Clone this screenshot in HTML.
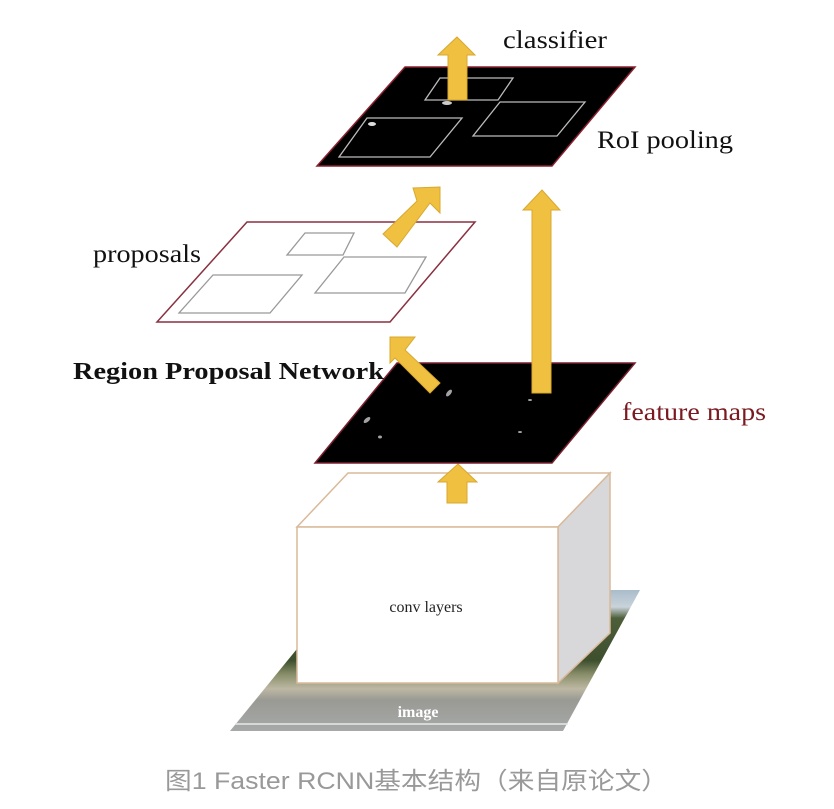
<!DOCTYPE html>
<html><head><meta charset="utf-8"><style>
html,body{margin:0;padding:0;background:#fff;}
svg{display:block;}
</style></head><body>
<svg width="834" height="809" viewBox="0 0 834 809" xmlns="http://www.w3.org/2000/svg">
<defs>
<linearGradient id="img" x1="0" y1="0" x2="0" y2="1">
<stop offset="0" stop-color="#a9bccb"/>
<stop offset="0.12" stop-color="#c9d3da"/>
<stop offset="0.2" stop-color="#4d5e3a"/>
<stop offset="0.5" stop-color="#3e4f2e"/>
<stop offset="0.6" stop-color="#8a8f6a"/>
<stop offset="0.7" stop-color="#bdb8a4"/>
<stop offset="0.78" stop-color="#9a9a94"/>
<stop offset="1" stop-color="#a6a9a8"/>
</linearGradient>
</defs>
<polygon points="345,590 640,590 563,731 230,731" fill="url(#img)"/>
<line x1="235" y1="724" x2="568" y2="724" stroke="#e8e8e8" stroke-width="1.5"/>
<text x="418" y="717" font-family="Liberation Serif,serif" font-weight="bold" font-size="16" fill="#fff" text-anchor="middle">image</text>
<polygon points="297,527 348,473 610,473 558,527" fill="#fff" stroke="#d9b99a" stroke-width="1.5"/>
<polygon points="558,527 610,473 610,633 558,683" fill="#d8d8da" stroke="#d9b99a" stroke-width="1.5"/>
<rect x="297" y="527" width="261" height="156" fill="#fff" stroke="#d9b99a" stroke-width="1.5"/>
<text x="426" y="612" font-family="Liberation Serif,serif" font-size="16" fill="#222" text-anchor="middle">conv layers</text>
<polygon points="458,464 477,482 467,482 467,503 447,503 447,482 438,482" fill="#f0c040" stroke="#d8a830" stroke-width="1"/>
<polygon points="397,363 635,363 552,463 315,463" fill="#000" stroke="#7a2030" stroke-width="1.5"/>
<g fill="#ccc" opacity="0.8">
<ellipse cx="449" cy="393" rx="4" ry="2" transform="rotate(-50 449 393)"/>
<ellipse cx="367" cy="420" rx="4" ry="2" transform="rotate(-40 367 420)"/>
<ellipse cx="380" cy="437" rx="2" ry="1.5"/>
<ellipse cx="520" cy="432" rx="2" ry="1"/>
<ellipse cx="530" cy="400" rx="2" ry="1"/>
</g>
<polygon points="390,337 415,337 405,350 440,383 430,393 395,358 390,363" fill="#f0c040" stroke="#d8a830" stroke-width="1"/>
<polygon points="542,190 560,210 551,210 551,393 532,393 532,210 523,210" fill="#f0c040" stroke="#d8a830" stroke-width="1"/>
<polygon points="247,222 475,222 390,322 157,322" fill="#fff" stroke="#8a3040" stroke-width="1.5"/>
<g fill="none" stroke="#999" stroke-width="1.3">
<polygon points="305,233 354,233 343,255 287,255"/>
<polygon points="344,257 426,257 405,293 315,293"/>
<polygon points="213,275 302,275 270,313 179,313"/>
</g>
<polygon points="440,187 440,213 430,203 397,247 383,234 417,201 413,188" fill="#f0c040" stroke="#d8a830" stroke-width="1"/>
<polygon points="405,67 635,67 552,166 317,166" fill="#000" stroke="#8a2030" stroke-width="1.5"/>
<g fill="none" stroke="#bbb" stroke-width="1.3">
<polygon points="367,118 462,118 430,157 339,157"/>
<polygon points="500,102 585,102 557,136 473,136"/>
<polygon points="440,78 513,78 498,100 425,100"/>
</g>
<ellipse cx="372" cy="124" rx="4" ry="2" fill="#ddd"/>
<ellipse cx="447" cy="103" rx="5" ry="2" fill="#ccc"/>
<polygon points="457,37 475,55 467,55 467,100 448,100 448,55 438,55" fill="#f0c040" stroke="#d8a830" stroke-width="1"/>
<g font-family="Liberation Serif,serif" font-size="25" fill="#111">
<text x="503" y="48" textLength="104" lengthAdjust="spacingAndGlyphs">classifier</text>
<text x="597" y="148" textLength="136" lengthAdjust="spacingAndGlyphs">RoI pooling</text>
<text x="93" y="262" textLength="108" lengthAdjust="spacingAndGlyphs">proposals</text>
<text x="73" y="379" font-weight="bold" font-size="24" textLength="311" lengthAdjust="spacingAndGlyphs">Region Proposal Network</text>
<text x="622" y="420" fill="#7a1a20" textLength="144" lengthAdjust="spacingAndGlyphs">feature maps</text>
</g>
<text x="165" y="789" font-family="Liberation Sans,Noto Sans CJK SC,sans-serif" font-size="24" fill="#999" textLength="503" lengthAdjust="spacingAndGlyphs">图1 Faster RCNN基本结构（来自原论文）</text>
</svg>
</body></html>
